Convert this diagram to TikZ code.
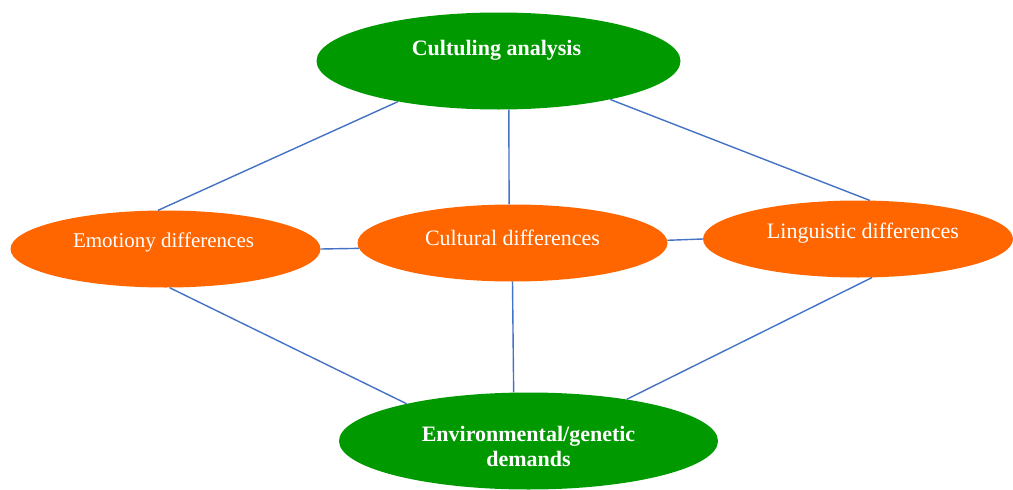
\documentclass[tikz,border=0pt]{standalone}
\usepackage{fontspec}
\setmainfont{Liberation Serif}
\usetikzlibrary{shapes.geometric}
\definecolor{ellgreen}{HTML}{009900}
\definecolor{ellorange}{HTML}{FF6600}
\definecolor{linkblue}{HTML}{4472C4}
\tikzset{
  greenell/.style={ellipse, fill=ellgreen, draw=none, inner sep=0pt},
  orangeell/.style={ellipse, fill=ellorange, draw=none, inner sep=0pt, minimum width=310pt, minimum height=77pt},
  ltext/.style={text=white, align=center, font=\fontsize{22}{25}\selectfont},
  btext/.style={ltext, font=\fontsize{22}{25}\selectfont\bfseries},
  link/.style={draw=linkblue, line width=1.4pt}
}
\begin{document}
\begin{tikzpicture}[x=1pt,y=-1pt]
\useasboundingbox (0,0) rectangle (1013,490);
\node[greenell, minimum width=364pt, minimum height=97pt,
  label={[btext, yshift=11pt, xshift=-2pt]center:Cultuling analysis}] (top) at (498.5,61) {};
\node[orangeell, label={[ltext, font=\fontsize{21}{24}\selectfont, yshift=7pt, xshift=-2pt]center:Emotiony differences}] (emo) at (165.5,249) {};
\node[orangeell, label={[ltext, yshift=5pt]center:Cultural differences}] (cul) at (512.5,243) {};
\node[orangeell, label={[ltext, yshift=6pt, xshift=5pt]center:Linguistic differences}] (lin) at (858,239) {};
\node[greenell, minimum width=379pt, minimum height=97pt,
  label={[btext, yshift=-5pt]center:Environmental/genetic\\demands}] (bot) at (528.5,441) {};
\draw[link] (top.202) -- (emo.101);
\draw[link] (top.282) -- (cul.95);
\draw[link] (top.341) -- (lin.73);
\draw[link] (emo.0) -- (cul.182);
\draw[link] (cul.1) -- (lin.180);
\draw[link] (emo.276) -- (bot.163);
\draw[link] (cul.270) -- (bot.107);
\draw[link] (lin.290) -- (bot.23.5);
\end{tikzpicture}
\end{document}
